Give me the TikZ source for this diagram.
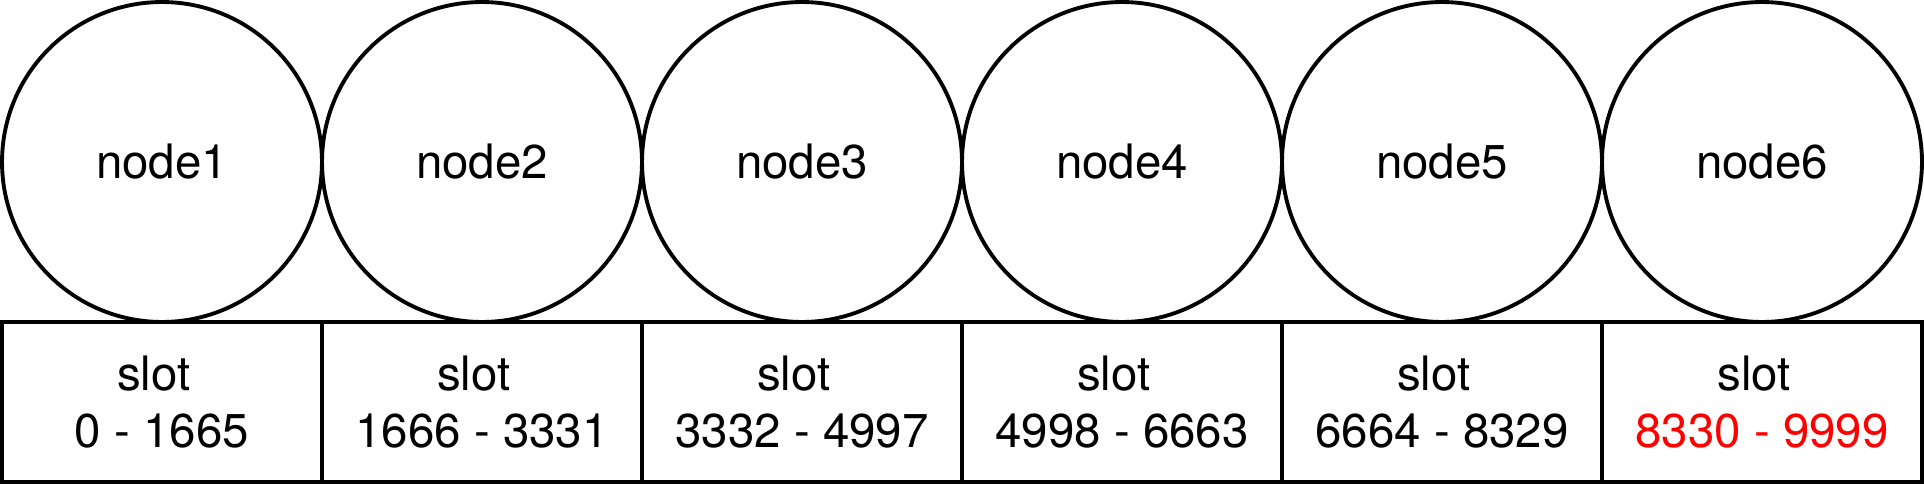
\documentclass[tikz,border=0pt]{standalone}
\usepackage{fontspec}
\setmainfont{TeX Gyre Heros}
\definecolor{slotred}{RGB}{255,0,0}
\begin{document}
\begin{tikzpicture}[x=0.02cm,y=0.02cm,
  ring/.style={draw=black,line width=2.2pt,circle,minimum size=6.4cm,inner sep=0pt,outer sep=0pt,
    font=\fontsize{27pt}{32pt}\selectfont},
  slotbox/.style={draw=black,line width=2.2pt,rectangle,minimum width=6.4cm,minimum height=3.2cm,
    inner sep=0pt,outer sep=0pt,align=center,font=\fontsize{27pt}{32pt}\selectfont}]
\useasboundingbox (0,0) rectangle (1924,484);
\node[ring] (n1) at (162,322) {node1};
\node[ring] (n2) at (482,322) {node2};
\node[ring] (n3) at (802,322) {node3};
\node[ring] (n4) at (1122,322) {node4};
\node[ring] (n5) at (1442,322) {node5};
\node[ring] (n6) at (1762,322) {node6};
\node[slotbox] (s1) at (162,82) {slot\hspace*{0.34em}\\0 - 1665};
\node[slotbox] (s2) at (482,82) {slot\hspace*{0.34em}\\1666 - 3331};
\node[slotbox] (s3) at (802,82) {slot\hspace*{0.34em}\\3332 - 4997};
\node[slotbox] (s4) at (1122,82) {slot\hspace*{0.34em}\\4998 - 6663};
\node[slotbox] (s5) at (1442,82) {slot\hspace*{0.34em}\\6664 - 8329};
\node[slotbox] (s6) at (1762,82) {slot\hspace*{0.34em}\\\textcolor{slotred}{8330 - 9999}};
\end{tikzpicture}
\end{document}
